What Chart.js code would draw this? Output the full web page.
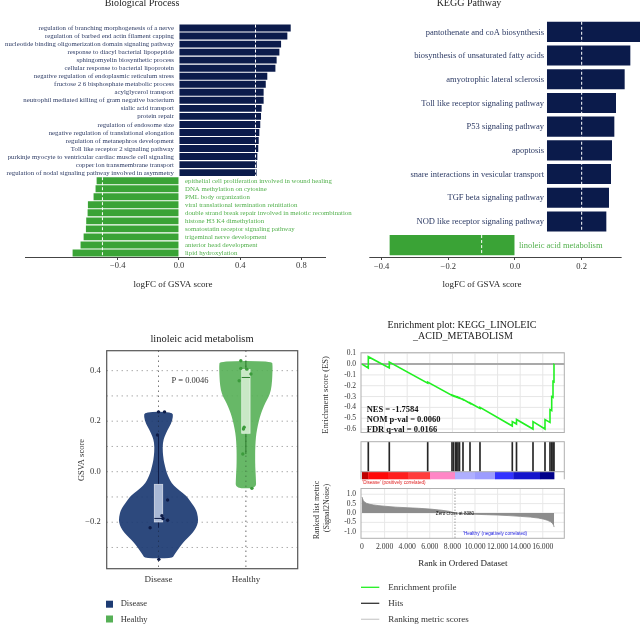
<!DOCTYPE html>
<html>
<head>
<meta charset="utf-8">
<script src="https://cdn.jsdelivr.net/npm/chart.js@4.4.1/dist/chart.umd.min.js"></script>
<style>
html,body{margin:0;padding:0;background:#ffffff;}
body{width:641px;height:624px;position:relative;overflow:hidden;}
canvas{position:absolute;}
</style>
</head>
<body>
<script>
// ---------------- DATA ----------------
const bpPosTerms = [
  'regulation of branching morphogenesis of a nerve',
  'regulation of barbed end actin filament capping',
  'nucleotide binding oligomerization domain signaling pathway',
  'response to diacyl bacterial lipopeptide',
  'sphingomyelin biosynthetic process',
  'cellular response to bacterial lipoprotein',
  'negative regulation of endoplasmic reticulum stress',
  'fructose 2 6 bisphosphate metabolic process',
  'acylglycerol transport',
  'neutrophil mediated killing of gram negative bacterium',
  'sialic acid transport',
  'protein repair',
  'regulation of endosome size',
  'negative regulation of translational elongation',
  'regulation of metanephros development',
  'Toll like receptor 2 signaling pathway',
  'purkinje myocyte to ventricular cardiac muscle cell signaling',
  'copper ion transmembrane transport',
  'regulation of nodal signaling pathway involved in asymmetry'
];
const bpPosValues = [0.730, 0.708, 0.667, 0.656, 0.638, 0.630, 0.577, 0.567, 0.553, 0.553,
                     0.540, 0.536, 0.531, 0.525, 0.521, 0.518, 0.512, 0.508, 0.507];
const bpNegTerms = [
  'epithelial cell proliferation involved in wound healing',
  'DNA methylation on cytosine',
  'PML body organization',
  'viral translational termination reinitiation',
  'double strand break repair involved in meiotic recombination',
  'histone H3 K4 dimethylation',
  'somatostatin receptor signaling pathway',
  'trigeminal nerve development',
  'anterior head development',
  'lipid hydroxylation'
];
const bpNegValues = [-0.538, -0.545, -0.558, -0.595, -0.597, -0.606, -0.608, -0.623, -0.643, -0.695];
const bpTicks = [-0.4, 0, 0.4, 0.8];
const bpThreshold = 0.5;

const keggPosTerms = [
  'pantothenate and coA biosynthesis',
  'biosynthesis of unsaturated fatty acids',
  'amyotrophic lateral sclerosis',
  'Toll like receptor signaling pathway',
  'P53 signaling pathway',
  'apoptosis',
  'snare interactions in vesicular transport',
  'TGF beta signaling pathway',
  'NOD like receptor signaling pathway'
];
const keggPosValues = [0.375, 0.346, 0.329, 0.303, 0.298, 0.291, 0.288, 0.282, 0.274];
const keggNegTerms = ['linoleic acid metabolism'];
const keggNegValues = [-0.376];
const keggTicks = [-0.4, -0.2, 0, 0.2];
const keggBarStart = 0.096;
const keggPosThreshold = 0.2;
const keggNegThreshold = -0.1;

const groups = ['Disease', 'Healthy'];
const diseaseViolinY = [0.237, 0.215, 0.19, 0.165, 0.14, 0.112, 0.08, 0.046, 0.02, -0.006, -0.026, -0.046, -0.066,
                        -0.086, -0.105, -0.125, -0.145, -0.165, -0.191, -0.211, -0.231, -0.25, -0.27, -0.29, -0.31, -0.33, -0.343];
const diseaseViolinHalfWidth = [0.161, 0.167, 0.144, 0.104, 0.069, 0.048, 0.048, 0.058, 0.075, 0.096, 0.121, 0.150, 0.207,
                        0.288, 0.340, 0.380, 0.421, 0.444, 0.455, 0.444, 0.415, 0.369, 0.308, 0.259, 0.219, 0.179, 0.156];
const healthyViolinY = [0.438, 0.42, 0.40, 0.36, 0.323, 0.295, 0.27, 0.245, 0.218, 0.185, 0.152, 0.12, 0.086, 0.05, 0.02, -0.01, -0.033, -0.066];
const healthyViolinHalfWidth = [0.300, 0.305, 0.305, 0.300, 0.288, 0.259, 0.219, 0.188, 0.161, 0.138, 0.119, 0.111, 0.106, 0.106, 0.107, 0.112, 0.115, 0.118];
// box stats: [whiskerLow, q1, median, q3, whiskerHigh]
const diseaseBox = [-0.222, -0.199, -0.185, -0.05, 0.145];
const healthyBox = [0.07, 0.152, 0.373, 0.405, 0.439];
const diseaseScores = [0.237, 0.237, 0.145, -0.112, -0.174, -0.185, -0.192, -0.222, -0.347];
const diseaseJitter = [0, 0.069, -0.012, 0.104, 0.039, 0.05, 0.104, -0.096, 0.004];
const healthyScores = [0.439, 0.409, 0.406, 0.387, 0.36, 0.176, 0.169, 0.07, -0.066];
const healthyJitter = [-0.058, -0.058, 0.011, 0.058, -0.077, -0.02, -0.028, -0.035, 0.069];
const violinGridY = [-0.3, -0.2, -0.1, 0, 0.1, 0.2, 0.3, 0.4];
const pValueText = 'P = 0.0046';

const esRank = [0, 558, 558, 2416, 2416, 5814, 5814, 7965, 7965, 8097, 8097, 8274, 8274, 8381, 8381, 8496, 8496,
                8628, 8628, 8938, 8938, 9558, 9558, 10442, 10442, 13301, 13301, 13673, 13673, 15133, 15133,
                16195, 16195, 16637, 16637, 16788, 16788, 16903, 16903, 16991, 16991, 17000];
const esScore = [0, -0.036, 0.068, -0.036, 0.019, -0.176, -0.166, -0.290, -0.287, -0.295, -0.292, -0.302, -0.299,
                 -0.305, -0.302, -0.309, -0.306, -0.314, -0.311, -0.329, -0.326, -0.362, -0.359, -0.410, -0.400,
                 -0.572, -0.532, -0.554, -0.512, -0.600, -0.532, -0.600, -0.512, -0.538, -0.420, -0.429, -0.300,
                 -0.307, -0.160, -0.165, 0.0, 0.0];
const hitRanks = [558, 2416, 5814, 7965, 8097, 8274, 8381, 8496, 8628, 8938, 9558, 10442,
                  13301, 13673, 15133, 16195, 16637, 16788, 16903, 16991];
const metricRank = [0, 60, 120, 250, 420, 700, 1000, 1500, 2000, 3000, 4000, 5000, 6000, 7000, 7700, 8230,
                    9000, 10000, 11000, 12000, 13000, 14000, 14900, 15600, 16100, 16400, 16700, 16880, 16960, 17000];
const metricValue = [0.85, 0.75, 0.65, 0.57, 0.51, 0.46, 0.43, 0.39, 0.36, 0.31, 0.28, 0.25, 0.21, 0.15, 0.09, 0.0,
                     -0.04, -0.07, -0.09, -0.11, -0.14, -0.18, -0.22, -0.27, -0.33, -0.39, -0.47, -0.57, -0.66, -0.75];
const colorbarEdges = [0, 558, 2300, 4070, 6018, 8230, 10000, 11770, 13390, 15750, 17000];
const colorbarColors = ['#c00000', '#ff0a0a', '#ff1e1e', '#ff3c3c', '#ff86c6', '#aeaeff', '#9c9cff', '#3232ff', '#1414cc', '#00008b'];
const zeroCrossRank = 8230;
const esTicks = [-0.6, -0.5, -0.4, -0.3, -0.2, -0.1, 0, 0.1];
const metricTicks = [-1, -0.5, 0, 0.5, 1];
const rankTicks = [0, 2000, 4000, 6000, 8000, 10000, 12000, 14000, 16000];
const gseaStats = ['NES = -1.7584', 'NOM p-val = 0.0060', 'FDR q-val = 0.0166'];

// ---------------- STYLE ----------------
const SERIF = "'Liberation Serif','DejaVu Serif','Times New Roman',serif";
const SANS = "'Liberation Sans','DejaVu Sans',Arial,sans-serif";
const C = {
  navyBar: '#0b1b4b', greenBar: '#3aa336',
  navyTxt: '#2c3a64', greenTxt: '#52b04c',
  dViolin: 'rgba(29,59,115,0.93)', hViolin: 'rgba(86,176,86,0.9)',
  dBox: '#a9b9d6', hBox: '#c9e8c6', dDot: '#0e1c48', hDot: '#3c9b3c',
  es: '#22f022', frame: '#b0b0b0'
};
Chart.defaults.font.family = SERIF;
Chart.defaults.color = '#333';
Chart.defaults.animation = false;
Chart.defaults.responsive = false;
Chart.defaults.maintainAspectRatio = false;
Chart.defaults.devicePixelRatio = 1;
Chart.defaults.plugins.legend.display = false;
Chart.defaults.plugins.tooltip.enabled = false;

function mkCanvas(left, top, w, h) {
  const c = document.createElement('canvas');
  c.width = w; c.height = h;
  c.style.left = left + 'px'; c.style.top = top + 'px';
  c.style.width = w + 'px'; c.style.height = h + 'px';
  document.body.appendChild(c);
  return c;
}
function drawText(ctx, s, x, y, o) {
  o = o || {};
  ctx.save();
  ctx.font = (o.weight || 'normal') + ' ' + (o.size || 9) + 'px ' + (o.family || SERIF);
  ctx.fillStyle = o.color || '#333';
  ctx.textAlign = o.align || 'center';
  ctx.textBaseline = o.baseline || 'middle';
  ctx.translate(x, y);
  if (o.rotate) ctx.rotate(o.rotate);
  ctx.fillText(s, 0, 0);
  ctx.restore();
}
function signed(v) {
  const s = Math.abs(v).toFixed(1);
  return v < -1e-9 ? '\u2212' + s : s;
}
function hyph(v) {
  const r = Math.round(v * 10) / 10;
  return (r < 0 ? '-' : '') + Math.abs(r).toFixed(1);
}
function line(ctx, x1, y1, x2, y2, color, w, dash) {
  ctx.save();
  ctx.strokeStyle = color; ctx.lineWidth = w || 1;
  ctx.setLineDash(dash || []);
  ctx.beginPath(); ctx.moveTo(x1, y1); ctx.lineTo(x2, y2); ctx.stroke();
  ctx.restore();
}
const setTicks = arr => s => { s.ticks = arr.map(v => ({value: v})); };

// ---------------- PANEL A: Biological Process ----------------
const bpTerms = bpPosTerms.concat(bpNegTerms);
const bpVals = bpPosValues.concat(bpNegValues);
new Chart(mkCanvas(0, 0, 400, 300), {
  type: 'bar',
  data: {labels: bpTerms, datasets: [{
    data: bpVals, backgroundColor: bpVals.map(v => v >= 0 ? C.navyBar : C.greenBar),
    barPercentage: 0.86, categoryPercentage: 1
  }]},
  options: {
    indexAxis: 'y',
    layout: {padding: {left: 25, right: 75, top: 24, bottom: 0}},
    scales: {
      y: {display: false},
      x: {type: 'linear', min: -1.006, max: 0.954,
        afterBuildTicks: setTicks(bpTicks), afterFit: s => { s.height = 43; },
        ticks: {callback: v => signed(v), font: {size: 8.5}, color: '#333', padding: 1, maxRotation: 0, autoSkip: false},
        grid: {drawOnChartArea: false, tickLength: 3, color: '#444'},
        border: {color: '#444', width: 1}}
    }
  },
  plugins: [{id: 'bpDeco', afterDatasetsDraw(chart) {
    const ctx = chart.ctx, xs = chart.scales.x, bars = chart.getDatasetMeta(0).data;
    const nP = bpPosValues.length, n = bars.length;
    const x0 = xs.getPixelForValue(0);
    line(ctx, xs.getPixelForValue(bpThreshold), bars[0].y - bars[0].height / 2,
         xs.getPixelForValue(bpThreshold), bars[nP - 1].y + bars[nP - 1].height / 2, '#ffffff', 1, [3, 2]);
    line(ctx, xs.getPixelForValue(-bpThreshold), bars[nP].y - bars[nP].height / 2,
         xs.getPixelForValue(-bpThreshold), bars[n - 1].y + bars[n - 1].height / 2, '#ffffff', 1, [3, 2]);
    bars.forEach((b, i) => {
      if (i < nP) drawText(ctx, bpTerms[i], x0 - 5, b.y + 0.3, {align: 'right', size: 6.8, color: C.navyTxt});
      else drawText(ctx, bpTerms[i], x0 + 6, b.y + 0.3, {align: 'left', size: 6.8, color: C.greenTxt});
    });
    drawText(ctx, 'Biological Process', 142, 5.5, {size: 10, baseline: 'alphabetic', color: '#222'});
    drawText(ctx, 'logFC of GSVA score', 173, 285, {size: 9, color: '#222'});
  }}]
});

// ---------------- PANEL B: KEGG Pathway ----------------
const kTerms = keggPosTerms.concat(keggNegTerms);
const nK = keggPosTerms.length;
const keggAxisEnd = 0.32;
new Chart(mkCanvas(330, 0, 311, 300), {
  type: 'bar',
  data: {labels: kTerms, datasets: [
    {data: keggPosValues.concat(keggNegTerms.map(() => null)), base: keggBarStart, backgroundColor: C.navyBar,
     barPercentage: 0.85, categoryPercentage: 1, grouped: false},
    {data: keggPosTerms.map(() => null).concat(keggNegValues), base: 0, backgroundColor: C.greenBar,
     barPercentage: 0.85, categoryPercentage: 1, grouped: false}
  ]},
  options: {
    indexAxis: 'y',
    layout: {padding: {left: 39.3, right: 0, top: 20, bottom: 0}},
    scales: {
      y: {display: false},
      x: {type: 'linear', min: -0.437, max: 0.378,
        afterBuildTicks: setTicks(keggTicks), afterFit: s => { s.height = 43; },
        ticks: {callback: v => signed(v), font: {size: 8.5}, color: '#333', padding: 2, maxRotation: 0, autoSkip: false},
        grid: {drawOnChartArea: false, tickLength: 3, color: '#444'},
        border: {display: false}}
    }
  },
  plugins: [{id: 'keggDeco', afterDatasetsDraw(chart) {
    const ctx = chart.ctx, xs = chart.scales.x, ca = chart.chartArea;
    const pos = chart.getDatasetMeta(0).data, neg = chart.getDatasetMeta(1).data;
    line(ctx, ca.left, ca.bottom + 0.5, xs.getPixelForValue(keggAxisEnd), ca.bottom + 0.5, '#444', 1);
    const xp = xs.getPixelForValue(keggPosThreshold);
    line(ctx, xp, pos[0].y - pos[0].height / 2, xp, pos[nK - 1].y + pos[nK - 1].height / 2, '#ffffff', 1, [3, 2]);
    const xn = xs.getPixelForValue(keggNegThreshold);
    const nb = neg[nK];
    line(ctx, xn, nb.y - nb.height / 2, xn, nb.y + nb.height / 2, '#ffffff', 1, [3, 2]);
    const xs0 = xs.getPixelForValue(keggBarStart);
    for (let i = 0; i < nK; i++) drawText(ctx, keggPosTerms[i], xs0 - 3, pos[i].y + 0.5, {align: 'right', size: 8.5, color: C.navyTxt});
    drawText(ctx, keggNegTerms[0], xs.getPixelForValue(0) + 4, nb.y + 0.5, {align: 'left', size: 8.5, color: C.greenTxt});
    drawText(ctx, 'KEGG Pathway', 139, 5.5, {size: 10, baseline: 'alphabetic', color: '#222'});
    drawText(ctx, 'logFC of GSVA score', 152, 285, {size: 9, color: '#222'});
  }}]
});

// ---------------- PANEL C: violin ----------------
function violinPath(ctx, xs, ys, cx, yv, wv) {
  const pts = [];
  for (let i = 0; i < yv.length; i++) pts.push([xs.getPixelForValue(cx + wv[i]), ys.getPixelForValue(yv[i])]);
  for (let i = yv.length - 1; i >= 0; i--) pts.push([xs.getPixelForValue(cx - wv[i]), ys.getPixelForValue(yv[i])]);
  const n = pts.length;
  const mid = (a, b) => [(a[0] + b[0]) / 2, (a[1] + b[1]) / 2];
  ctx.beginPath();
  const m0 = mid(pts[n - 1], pts[0]);
  ctx.moveTo(m0[0], m0[1]);
  for (let i = 0; i < n; i++) {
    const p = pts[i], q = pts[(i + 1) % n], mm = mid(p, q);
    ctx.quadraticCurveTo(p[0], p[1], mm[0], mm[1]);
  }
  ctx.closePath();
}
function drawBox(ctx, xs, ys, cx, st, fill, dark) {
  const hw = 0.048;
  const xl = xs.getPixelForValue(cx - hw), xr = xs.getPixelForValue(cx + hw), xc = xs.getPixelForValue(cx);
  const p = st.map(v => ys.getPixelForValue(v));
  line(ctx, xc, p[4], xc, p[3], dark, 1);
  line(ctx, xc, p[1], xc, p[0], dark, 1);
  ctx.save();
  ctx.fillStyle = fill; ctx.fillRect(xl, p[3], xr - xl, p[1] - p[3]);
  ctx.strokeStyle = 'rgba(255,255,255,0.7)'; ctx.lineWidth = 0.8; ctx.strokeRect(xl, p[3], xr - xl, p[1] - p[3]);
  ctx.restore();
  line(ctx, xl, p[2], xr, p[2], dark, 1);
}
new Chart(mkCanvas(0, 320, 330, 304), {
  type: 'scatter',
  data: {datasets: [
    {data: diseaseScores.map((v, i) => ({x: 0 + diseaseJitter[i], y: v})), pointRadius: 1.7, pointBackgroundColor: C.dDot, pointBorderWidth: 0},
    {data: healthyScores.map((v, i) => ({x: 1 + healthyJitter[i], y: v})), pointRadius: 1.7, pointBackgroundColor: C.hDot, pointBorderWidth: 0}
  ]},
  options: {
    layout: {padding: {left: 60, right: 32.3, top: 30.7, bottom: 0}},
    scales: {
      x: {type: 'linear', min: -0.593, max: 1.593,
        afterBuildTicks: setTicks([0, 1]), afterFit: s => { s.height = 55.3; },
        ticks: {callback: v => groups[v], font: {size: 9}, color: '#333', padding: 6, maxRotation: 0, autoSkip: false},
        grid: {display: false, drawTicks: false}, border: {display: false}},
      y: {type: 'linear', min: -0.384, max: 0.479,
        afterBuildTicks: setTicks(violinGridY), afterFit: s => { s.width = 46.7; },
        ticks: {callback: v => (Math.round(v * 10) % 2 === 0 ? signed(v) : ''), font: {size: 8.5}, color: '#333', padding: 6, autoSkip: false},
        grid: {display: false, drawTicks: false}, border: {display: false}}
    }
  },
  plugins: [{id: 'violinDeco',
    beforeDatasetsDraw(chart) {
      const ctx = chart.ctx, xs = chart.scales.x, ys = chart.scales.y, ca = chart.chartArea;
      violinGridY.forEach(v => { const y = ys.getPixelForValue(v); line(ctx, ca.left, y, ca.right, y, '#666', 0.8, [1, 4]); });
      [0, 1].forEach(v => { const x = xs.getPixelForValue(v); line(ctx, x, ca.top, x, ca.bottom, '#555', 0.8, [1, 4]); });
      ctx.save();
      violinPath(ctx, xs, ys, 0, diseaseViolinY, diseaseViolinHalfWidth);
      ctx.fillStyle = C.dViolin; ctx.fill();
      violinPath(ctx, xs, ys, 1, healthyViolinY, healthyViolinHalfWidth);
      ctx.fillStyle = C.hViolin; ctx.fill();
      ctx.restore();
      [0, 1].forEach(v => { const x = xs.getPixelForValue(v); line(ctx, x, ca.top, x, ca.bottom, 'rgba(20,20,20,0.55)', 0.8, [1, 4]); });
      drawBox(ctx, xs, ys, 0, diseaseBox, C.dBox, '#0e1c48');
      drawBox(ctx, xs, ys, 1, healthyBox, C.hBox, '#2d7d2d');
    },
    afterDraw(chart) {
      const ctx = chart.ctx, ca = chart.chartArea;
      ctx.save(); ctx.strokeStyle = '#555'; ctx.lineWidth = 1.2;
      ctx.strokeRect(ca.left, ca.top, ca.right - ca.left, ca.bottom - ca.top); ctx.restore();
      drawText(ctx, 'linoleic acid metabolism', 202, 19, {size: 10.5, color: '#222'});
      drawText(ctx, pValueText, 190, 61, {size: 8.5, color: '#333'});
      drawText(ctx, 'GSVA score', 81.7, 140, {size: 8.5, color: '#333', rotate: -Math.PI / 2});
      ctx.save();
      ctx.fillStyle = '#1d3b73'; ctx.fillRect(106, 280.7, 7, 7);
      ctx.fillStyle = '#56b056'; ctx.fillRect(106, 295.5, 7, 7);
      ctx.restore();
      drawText(ctx, 'Disease', 120.7, 284, {align: 'left', size: 8.5, color: '#333'});
      drawText(ctx, 'Healthy', 120.7, 299.5, {align: 'left', size: 8.5, color: '#333'});
    }
  }]
});

// ---------------- PANEL D: GSEA ----------------
const rankMin = -88, rankMax = 17903;
function frame(ctx, ca) {
  ctx.save(); ctx.strokeStyle = C.frame; ctx.lineWidth = 1;
  ctx.strokeRect(ca.left, ca.top, ca.right - ca.left, ca.bottom - ca.top); ctx.restore();
}
// ES
new Chart(mkCanvas(310, 320, 331, 122), {
  type: 'scatter',
  data: {datasets: [{data: esRank.map((r, i) => ({x: r, y: esScore[i]})), showLine: true,
    borderColor: C.es, borderWidth: 1.6, pointRadius: 0, tension: 0}]},
  options: {
    layout: {padding: {left: 0, right: 76.7, top: 32.7, bottom: 0.3}},
    scales: {
      x: {type: 'linear', display: false, min: rankMin, max: rankMax},
      y: {type: 'linear', min: -0.632, max: 0.105,
        afterBuildTicks: setTicks(esTicks), afterFit: s => { s.width = 51; },
        ticks: {callback: v => hyph(v), font: {size: 7.5}, color: '#333', padding: 5, autoSkip: false},
        grid: {display: false, drawTicks: false}, border: {display: false}}
    }
  },
  plugins: [{id: 'esDeco',
    beforeDatasetsDraw(chart) {
      const ctx = chart.ctx, xs = chart.scales.x, ys = chart.scales.y, ca = chart.chartArea;
      esTicks.forEach(v => { const y = ys.getPixelForValue(v); line(ctx, ca.left, y, ca.right, y, '#e6e6e6', 1); });
      rankTicks.forEach(v => { if (v > 0) { const x = xs.getPixelForValue(v); line(ctx, x, ca.top, x, ca.bottom, '#e6e6e6', 1); } });
      const y0 = ys.getPixelForValue(0);
      line(ctx, ca.left, y0, ca.right, y0, '#a9a9a9', 2);
    },
    afterDraw(chart) {
      const ctx = chart.ctx, ca = chart.chartArea;
      frame(ctx, ca);
      gseaStats.forEach((s, i) => drawText(ctx, s, 56.7, 90 + i * 10, {align: 'left', size: 8.5, color: '#111', weight: '600'}));
      drawText(ctx, 'Enrichment plot: KEGG_LINOLEIC', 152, 5.5, {size: 10, color: '#222'});
      drawText(ctx, '_ACID_METABOLISM', 153, 16, {size: 10, color: '#222'});
      drawText(ctx, 'Enrichment score (ES)', 16, 75, {size: 8.5, color: '#333', rotate: -Math.PI / 2});
    }
  }]
});
// Hits + colour bar
new Chart(mkCanvas(310, 441, 331, 39), {
  type: 'bar',
  data: {datasets: [{data: hitRanks.map(r => ({x: r, y: 1})), backgroundColor: '#262626', barThickness: 1, borderWidth: 0}]},
  options: {
    layout: {padding: {left: 51, right: 76.7, top: 0.7, bottom: 8.3}},
    scales: {
      x: {type: 'linear', display: false, min: rankMin, max: rankMax, offset: false},
      y: {display: false, min: 0, max: 1}
    }
  },
  plugins: [{id: 'hitsDeco', afterDraw(chart) {
    const ctx = chart.ctx, xs = chart.scales.x, ca = chart.chartArea;
    const cbTop = ca.bottom, cbH = 7.6;
    for (let i = 0; i < colorbarColors.length; i++) {
      const x0 = xs.getPixelForValue(colorbarEdges[i]), x1 = xs.getPixelForValue(colorbarEdges[i + 1]);
      ctx.fillStyle = colorbarColors[i];
      ctx.fillRect(x0, cbTop, x1 - x0 + 0.3, cbH);
    }
    frame(ctx, ca);
    line(ctx, ca.left, cbTop, ca.left, cbTop + cbH, C.frame, 1);
    line(ctx, ca.right, cbTop, ca.right, cbTop + cbH, C.frame, 1);
  }}]
});
// Ranked list metric
new Chart(mkCanvas(310, 479, 331, 145), {
  type: 'line',
  data: {datasets: [{data: metricRank.map((r, i) => ({x: r, y: metricValue[i]})), borderColor: '#8a8a8a',
    backgroundColor: '#8d8d8d', borderWidth: 0.8, fill: 'origin', pointRadius: 0, tension: 0}]},
  options: {
    layout: {padding: {left: 0, right: 76.7, top: 0.3, bottom: 0}},
    scales: {
      x: {type: 'linear', min: rankMin, max: rankMax,
        afterBuildTicks: setTicks(rankTicks), afterFit: s => { s.height = 85.7; },
        ticks: {callback: v => (v === 0 ? '0' : (v / 1000) + '.000'), font: {size: 7.7}, color: '#333', padding: 4, maxRotation: 0, autoSkip: false},
        grid: {display: false, drawTicks: false}, border: {display: false}},
      y: {type: 'linear', min: -1.351, max: 1.306,
        afterBuildTicks: setTicks(metricTicks), afterFit: s => { s.width = 51; },
        ticks: {callback: v => hyph(v), font: {size: 7.5}, color: '#333', padding: 5, autoSkip: false},
        grid: {display: false, drawTicks: false}, border: {display: false}}
    }
  },
  plugins: [{id: 'metricDeco',
    beforeDatasetsDraw(chart) {
      const ctx = chart.ctx, xs = chart.scales.x, ys = chart.scales.y, ca = chart.chartArea;
      metricTicks.forEach(v => { const y = ys.getPixelForValue(v); line(ctx, ca.left, y, ca.right, y, '#e8e8e8', 1); });
      rankTicks.forEach(v => { if (v > 0) { const x = xs.getPixelForValue(v); line(ctx, x, ca.top, x, ca.bottom, '#e8e8e8', 1); } });
    },
    afterDraw(chart) {
      const ctx = chart.ctx, xs = chart.scales.x, ys = chart.scales.y, ca = chart.chartArea;
      const xz = xs.getPixelForValue(zeroCrossRank);
      line(ctx, xz, ca.top, xz, ca.bottom, '#888', 0.8, [1.5, 1.5]);
      frame(ctx, ca);
      drawText(ctx, "'Disease' (positively correlated)", 52.3, 3.8, {align: 'left', size: 4.6, family: SANS, color: '#e02020'});
      drawText(ctx, 'Zero cross at ' + 8380, xz, ys.getPixelForValue(0) + 0.5, {size: 4.6, family: SANS, color: '#111'});
      drawText(ctx, "'Healthy' (negatively correlated)", 153, 55, {align: 'left', size: 4.6, family: SANS, color: '#2020e0'});
      drawText(ctx, 'Ranked list metric', 6.7, 31, {size: 8, color: '#333', rotate: -Math.PI / 2});
      drawText(ctx, '(Signal2Noise)', 16.5, 29, {size: 8, color: '#333', rotate: -Math.PI / 2});
      drawText(ctx, 'Rank in Ordered Dataset', 152.8, 84.3, {size: 9, color: '#222'});
      const leg = [['Enrichment profile', C.es], ['Hits', '#333'], ['Ranking metric scores', '#cfcfcf']];
      leg.forEach((l, i) => {
        const y = 108.3 + i * 16;
        line(ctx, 51, y, 69.3, y, l[1], 1.3);
        drawText(ctx, l[0], 78.3, y, {align: 'left', size: 9, color: '#333'});
      });
    }
  }]
});
</script>
</body>
</html>
